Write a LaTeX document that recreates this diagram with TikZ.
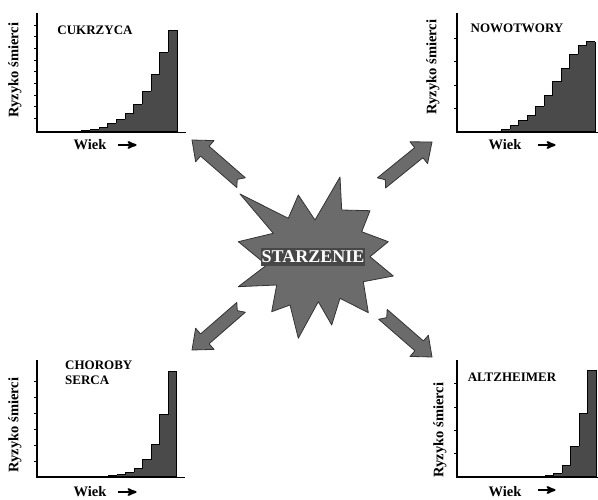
\documentclass[tikz,border=0pt]{standalone}
\usepackage{fontspec}
\setmainfont{Liberation Serif}
\usetikzlibrary{arrows}
\definecolor{bardark}{HTML}{4A4A4A}
\definecolor{blastgray}{HTML}{6B6B6B}
\tikzstyle{arr}=[->,>=stealth',line width=2pt]
\tikzstyle{bar}=[draw=black,line width=0.8pt]
\tikzstyle{axis}=[line width=1.4pt]
\tikzstyle{tick}=[line width=0.4pt]
\tikzstyle{title}=[font=\bfseries\fontsize{13}{15}\selectfont,inner sep=0pt]
\tikzstyle{ylab}=[font=\bfseries\fontsize{14.5}{15}\selectfont,rotate=90,inner sep=0pt]
\tikzstyle{xlab}=[font=\bfseries\fontsize{14.5}{15}\selectfont,inner sep=0pt]
\tikzstyle{blockarr}=[fill=blastgray,draw=black!80,line width=0.8pt,line join=round]

\begin{document}
\begin{tikzpicture}[x=1pt,y=-1pt]
\useasboundingbox (0,0) rectangle (598,500);
\def\axes#1#2#3#4{\draw[axis] (#1,#2) -- (#1,#3) -- (#4,#3);}
\def\bars#1#2#3#4{\foreach \h [count=\i,remember=\h as \p (initially 0)] in {#4,0} {
  \fill[bardark] ({#1+(\i-1)*#3},#2) rectangle ++(#3,-\h);
  \draw[bar] ({#1+(\i-1)*#3},#2-\p) -- ({#1+(\i-1)*#3},#2-\h) -- ++(#3,0);}}
\def\yticks#1#2{\foreach \t in {#2} \draw[tick] (#1,\t) -- ++(-3,0);}
\def\blockarrow#1#2{\filldraw[blockarr,shift={#1},rotate=#2] (0,0) -- (-17,14) -- (-17,6.5) -- (-65,6.5) -- (-60,0) -- (-65,-6.5) -- (-17,-6.5) -- (-17,-14) -- cycle;}
% cukrzyca
\bars{73}{132}{8.67}{1,2,3,5,9,13,19,28,41,58,80,102}
\axes{37}{13}{132}{177}
\yticks{37}{25,36.7,48.3,60,71.7,83.3,95,106.7,118.3}
\node[title] (cukrzyca) at (95,30) {CUKRZYCA};
\node[ylab] (ylabA) at (15,70) {Ryzyko śmierci};
\node[xlab] (xlabA) at (90,145) {Wiek};
\draw[arr] ([xshift=11pt]xlabA.east) -- ++(19,0);
% nowotwory
\bars{493.3}{132}{8.47}{1,3,6.3,11.3,17,26,37,50.3,63.7,78,86.3,90.3}
\axes{457}{13}{132}{595}
\yticks{457}{38.3,61.7,85,108.3}
\node[title] (nowotwory) at (517,28) {NOWOTWORY};
\node[ylab] (ylabB) at (433,67) {Ryzyko śmierci};
\node[xlab] (xlabB) at (505,145) {Wiek};
\draw[arr] ([xshift=16pt]xlabB.east) -- ++(18,0);
% choroby serca
\bars{100}{477}{8.5}{0.6,1.6,3,5,9,17.3,32.3,62.3,105.6}
\axes{37}{360}{477}{177}
\yticks{37}{381,397,413,429,445,461}
\node[title,anchor=north west,align=left] (serca) at (65,361) {CHOROBY\\SERCA};
\node[ylab] (ylabC) at (15,425) {Ryzyko śmierci};
\node[xlab] (xlabC) at (90,492) {Wiek};
\draw[arr] ([xshift=11pt]xlabC.east) -- ++(19,0);
% altzheimer
\bars{545}{477}{8.5}{1.3,4,11.6,30.6,64,106.6}
\axes{457}{360}{477}{597}
\yticks{457}{383.3,406.7,430,453.3}
\node[title] (altz) at (512,377) {ALTZHEIMER};
\node[ylab] (ylabD) at (440,430) {Ryzyko śmierci};
\node[xlab] (xlabD) at (505,492) {Wiek};
\draw[arr] ([xshift=16pt,yshift=2pt]xlabD.east) -- ++(18,0);
% starzenie
\filldraw[blockarr] (340,177) -- (341.7,210) -- (370,210.7) -- (361.7,231.7) -- (388.3,241.7) -- (370,256.7) -- (393.3,276) -- (363.3,281.7) -- (368.3,312.7) -- (340,298.3) -- (331.7,325) -- (318.3,301.7) -- (298.3,338.3) -- (290,305) -- (271.7,311.7) -- (276.7,285) -- (238.3,286.7) -- (266.7,265) -- (238.3,241.7) -- (273.3,233.3) -- (240,194) -- (288.3,218.3) -- (298.3,195) -- (315,220) -- cycle;
\node[fill=black!72,text=white,font=\bfseries\fontsize{18}{18}\selectfont,inner xsep=1pt,inner ysep=3pt] (starz) at (313,257) {STARZENIE};
\blockarrow{(192,140)}{139}
\blockarrow{(432,142)}{39}
\blockarrow{(192,350)}{221}
\blockarrow{(432,357)}{-41}
\end{tikzpicture}
\end{document}
